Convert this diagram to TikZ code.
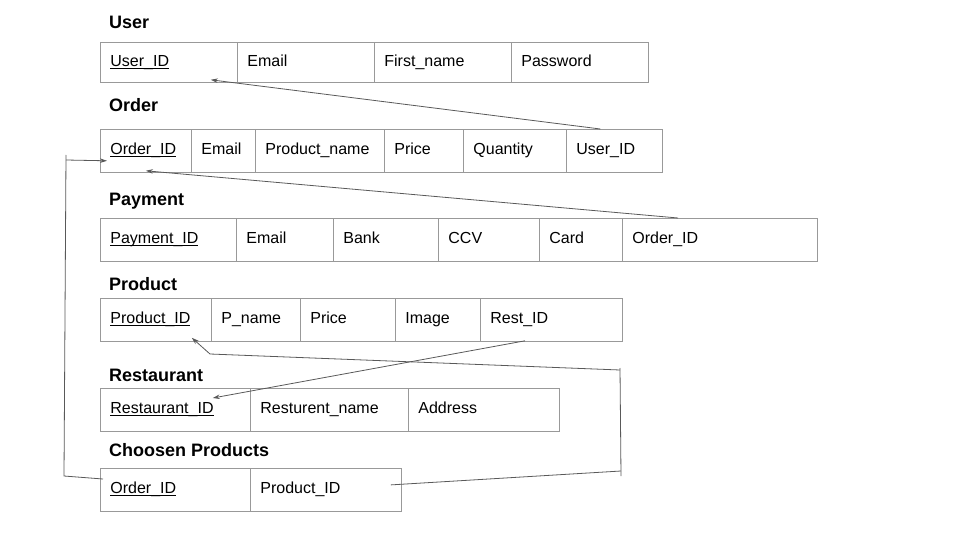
\documentclass[tikz,border=0pt]{standalone}
\usepackage{fontspec}
\setmainfont{Liberation Sans}
\usetikzlibrary{arrows.meta}
\newcommand{\keyline}[1]{$\underline{\smash{\hbox{#1}}}$}

\begin{document}
\begin{tikzpicture}[x=1pt, y=-1pt, >={Stealth[length=7pt,width=4.5pt]}]
	\tikzstyle{cell}=[draw=black!40, line width=0.8pt, anchor=north west, minimum height=43pt, inner xsep=10pt, text height=11.5pt, text depth=3.5pt, align=left, font=\fontsize{16}{19}\selectfont]
	\tikzstyle{title}=[anchor=base west, inner sep=0pt, font=\fontsize{18}{21}\selectfont\bfseries]
	\tikzstyle{link}=[draw=black!65, line width=0.8pt]
	\useasboundingbox (0,0) rectangle (960,540);

		% User
		\node[title] (tuser) at (109,28.5) {User};
		\node[cell, text width=117pt, minimum height=40pt] (uid) at (100,42) {\keyline{User\_ID}};
		\node[cell, text width=117pt, minimum height=40pt] (uemail) at (237,42) {Email};
		\node[cell, text width=117pt, minimum height=40pt] (ufname) at (374,42) {First\_name};
		\node[cell, text width=117pt, minimum height=40pt] (upass) at (511,42) {Password};

		% Order
		\node[title] (torder) at (109,111.5) {Order};
		\node[cell, text width=71pt] (oid) at (100,129) {\keyline{Order\_ID}};
		\node[cell, text width=44pt] (oemail) at (191,129) {Email};
		\node[cell, text width=109pt] (opname) at (255,129) {Product\_name};
		\node[cell, text width=59pt] (oprice) at (384,129) {Price};
		\node[cell, text width=83pt] (oqty) at (463,129) {Quantity};
		\node[cell, text width=76pt] (ouid) at (566,129) {User\_ID};

		% Payment
		\node[title] (tpay) at (109,205.5) {Payment};
		\node[cell, text width=116pt] (pid) at (100,218) {\keyline{Payment\_ID}};
		\node[cell, text width=77pt] (pemail) at (236,218) {Email};
		\node[cell, text width=85pt] (pbank) at (333,218) {Bank};
		\node[cell, text width=81pt] (pccv) at (438,218) {CCV};
		\node[cell, text width=63pt] (pcard) at (539,218) {Card};
		\node[cell, text width=175pt] (poid) at (622,218) {Order\_ID};

		% Product
		\node[title] (tprod) at (109,290.5) {Product};
		\node[cell, text width=91pt] (prid) at (100,298) {\keyline{Product\_ID}};
		\node[cell, text width=69pt] (prname) at (211,298) {P\_name};
		\node[cell, text width=75pt] (prprice) at (300,298) {Price};
		\node[cell, text width=65pt] (primage) at (395,298) {Image};
		\node[cell, text width=122pt] (prrest) at (480,298) {Rest\_ID};

		% Restaurant
		\node[title] (trest) at (109,381.5) {Restaurant};
		\node[cell, text width=130pt] (rid) at (100,388) {\keyline{Restaurant\_ID}};
		\node[cell, text width=138pt] (rname) at (250,388) {Resturent\_name};
		\node[cell, text width=131pt] (raddr) at (408,388) {Address};

		% Choosen Products
		\node[title] (tchosen) at (109,456.5) {Choosen Products};
		\node[cell, text width=130pt] (coid) at (100,468) {\keyline{Order\_ID}};
		\node[cell, text width=131pt] (cpid) at (250,468) {Product\_ID};

		%========================================================================
		% Links
		\coordinate (rbot) at (621,471);
		\coordinate (rtop) at (620,370);
		\coordinate (rmid) at (210,354);
		\coordinate (lbot) at (64,476);
		\coordinate (ltop) at (66,155);
		\coordinate (lmid) at (66,160);

		\draw[link, ->] ([xshift=-14pt]ouid.north) -- ([shift={(-27pt,3pt)}]uid.south east);
		\draw[link, ->] ([xshift=56pt]poid.north west) -- ([yshift=2pt]oid.south);
		\draw[link, ->] ([shift={(45pt,1pt)}]prrest.south west) -- ([shift={(-38pt,-10pt)}]rid.north east);

		\draw[link] ([shift={(-11pt,5pt)}]cpid.east) -- (rbot);
		\draw[link] ([yshift=-5pt]rbot) -- ([yshift=2pt]rtop);
		\draw[link, ->] (rtop) -- (rmid) -- ([shift={(-20pt,4pt)}]prid.south east);

		\draw[link] ([shift={(3pt,-11pt)}]coid.north west) -- (lbot) -- (ltop);
		\draw[link, ->] (lmid) -- ([shift={(7pt,12pt)}]oid.south west);
\end{tikzpicture}
\end{document}
